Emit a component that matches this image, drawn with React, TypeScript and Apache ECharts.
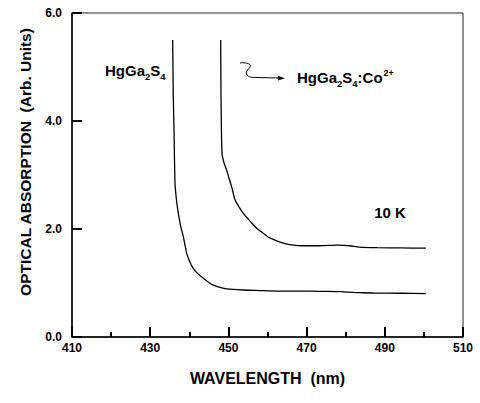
import React, { useEffect, useRef } from "react";
import * as echarts from "echarts";

const xTicks = [410, 430, 450, 470, 490, 510];
const xMinorTicks = [420, 440, 460, 480, 500];
const yTicks = [0, 2, 4, 6];

const pureWavelength = [435.75, 435.9, 436.09, 436.34, 436.7, 437.19, 437.8, 438.47, 439.33, 440.1, 441.02, 442.2, 443.58, 444.8, 446.14, 447.8, 449.57, 453.8, 458.0, 462.35, 468.0, 473.4, 479.0, 482.0, 487.0, 494.0, 500.5];
const pureAbsorption = [5.5, 4.45, 3.83, 2.85, 2.55, 2.29, 2.05, 1.86, 1.55, 1.4, 1.27, 1.17, 1.09, 1.02, 0.96, 0.92, 0.89, 0.87, 0.86, 0.85, 0.85, 0.845, 0.84, 0.825, 0.815, 0.81, 0.805];

const coWavelength = [448.03, 448.11, 448.36, 448.9, 449.57, 450.2, 450.84, 451.69, 452.7, 453.81, 455.0, 455.96, 457.3, 458.93, 460.5, 462.35, 464.5, 466.6, 469.16, 473.4, 478.0, 481.0, 483.5, 488.0, 494.0, 500.5];
const coAbsorption = [5.5, 4.45, 3.4, 3.22, 3.09, 2.93, 2.78, 2.54, 2.41, 2.29, 2.19, 2.11, 2.01, 1.92, 1.84, 1.78, 1.73, 1.7, 1.69, 1.69, 1.7, 1.69, 1.665, 1.655, 1.65, 1.645];

const FONT = "Liberation Sans, Arial, sans-serif";

const squiggle = "M240,63 C246,62 252,64 250,67 C248,70 245,72 247,75 C248,77 252,77.5 257,77.5 L279,78";

export default function App() {
  const ref = useRef<HTMLDivElement>(null);
  useEffect(() => {
    if (!ref.current) return;
    try {
      echarts.graphic.registerShape("squiggle", echarts.graphic.extendPath(squiggle, {}) as any);
    } catch (e) {}
    const chart = echarts.init(ref.current, null, { renderer: "svg" });
    const toPairs = (xs: number[], ys: number[]) => xs.map((x, i) => [x, ys[i]]);
    const richLabel = {
      m: { fontSize: 15, fontWeight: "bold", fontFamily: FONT, lineHeight: 15, padding: [2, 0, 0, 0], verticalAlign: "top", fill: "#000" },
      s: { fontSize: 9.5, fontWeight: "bold", fontFamily: FONT, lineHeight: 10, padding: [10, 0, 0, 0], verticalAlign: "top", fill: "#000" },
      u: { fontSize: 9, fontWeight: "bold", fontFamily: FONT, lineHeight: 9, padding: [0, 0, 0, 1], verticalAlign: "top", fill: "#000" },
    };
    chart.setOption({
      animation: false,
      backgroundColor: "#fff",
      grid: { left: 72, right: 17, top: 13, bottom: 66, show: true, borderColor: "#222", borderWidth: 1 },
      xAxis: {
        type: "value",
        min: xTicks[0],
        max: xTicks[xTicks.length - 1],
        interval: 20,
        name: "WAVELENGTH  (nm)",
        nameLocation: "middle",
        nameGap: 33,
        nameTextStyle: { fontSize: 16, fontWeight: "bold", fontFamily: FONT, color: "#000" },
        axisLine: { show: true, lineStyle: { color: "#000", width: 1.5 } },
        axisTick: { show: true, inside: true, length: 10, lineStyle: { color: "#000", width: 2 } },
        minorTick: { show: true, splitNumber: 2, length: 5, lineStyle: { color: "#000", width: 2 } },
        axisLabel: { margin: 5, fontSize: 12, fontWeight: "bold", fontFamily: FONT, color: "#000" },
        splitLine: { show: false },
      },
      yAxis: {
        type: "value",
        min: yTicks[0],
        max: yTicks[yTicks.length - 1],
        interval: 2,
        axisLine: { show: true, lineStyle: { color: "#000", width: 1.5 } },
        axisTick: { show: true, inside: true, length: 10, lineStyle: { color: "#000", width: 2 } },
        axisLabel: { margin: 10, padding: [0, 0, 4, 0], fontSize: 12, fontWeight: "bold", fontFamily: FONT, color: "#000", formatter: (v: number) => v.toFixed(1) },
        splitLine: { show: false },
      },
      series: [
        {
          name: "HgGa2S4",
          type: "line",
          data: toPairs(pureWavelength, pureAbsorption),
          showSymbol: false,
          symbol: "none",
          smooth: 0.2,
          lineStyle: { color: "#000", width: 1.3 },
        },
        {
          name: "HgGa2S4:Co2+",
          type: "line",
          data: toPairs(coWavelength, coAbsorption),
          showSymbol: false,
          symbol: "none",
          smooth: 0.2,
          lineStyle: { color: "#000", width: 1.3 },
        },
      ],
      graphic: [
        {
          type: "text",
          x: 25,
          y: 162,
          rotation: Math.PI / 2,
          style: { text: "OPTICAL ABSORPTION  (Arb. Units)", fontSize: 15.5, fontWeight: "bold", fontFamily: FONT, fill: "#000", align: "center", verticalAlign: "middle" },
        },
        {
          type: "text",
          x: 105,
          y: 61,
          style: { text: "{m|HgGa}{s|2}{m|S}{s|4}", rich: richLabel, verticalAlign: "top", align: "left" },
        },
        {
          type: "text",
          x: 297,
          y: 68,
          style: { text: "{m|HgGa}{s|2}{m|S}{s|4}{m|:Co}{u|2+}", rich: richLabel, verticalAlign: "top", align: "left" },
        },
        {
          type: "text",
          x: 390,
          y: 212,
          style: { text: "10 K", fontSize: 15, fontWeight: "bold", fontFamily: FONT, fill: "#000", align: "center", verticalAlign: "middle" },
        },
        {
          type: "squiggle",
          x: 0,
          y: 0,
          style: { stroke: "#000", fill: null, lineWidth: 1 },
        },
        {
          type: "polygon",
          shape: { points: [[285, 78.2], [278, 75.8], [278, 80.6]] },
          style: { fill: "#000" },
        },
      ],
    });
    return () => chart.dispose();
  }, []);
  return <div ref={ref} style={{ position: "absolute", left: 0, top: 0, width: 480, height: 403 }} />;
}
